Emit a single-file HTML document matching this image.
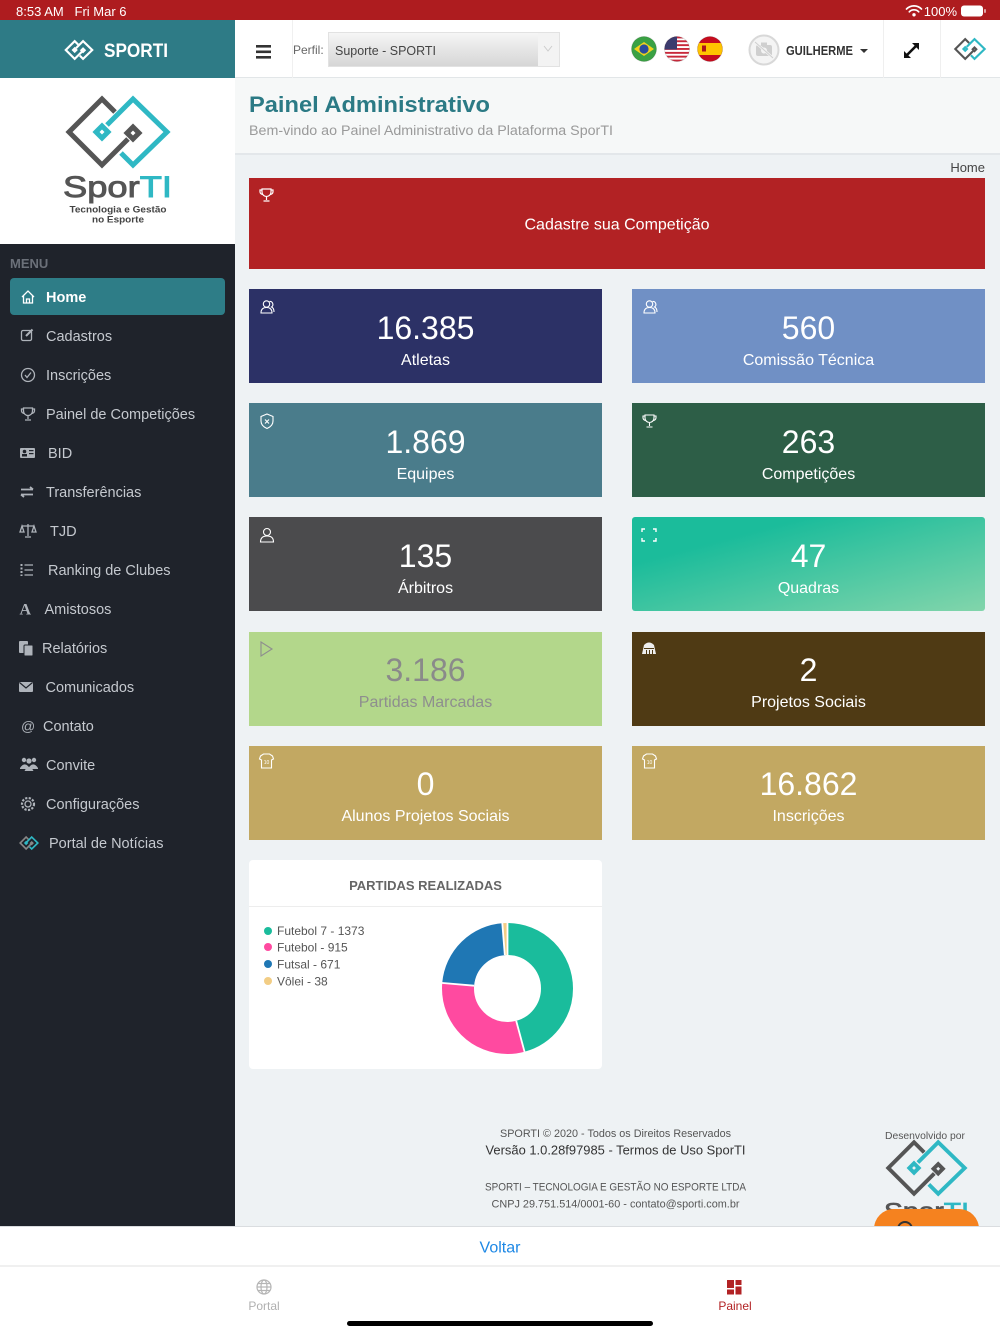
<!DOCTYPE html>
<html><head><meta charset="utf-8">
<style>
*{margin:0;padding:0;box-sizing:border-box}
html,body{width:1000px;height:1334px;overflow:hidden;background:#EEF2F4}
svg{position:absolute;left:0;top:0;display:block}
svg text{font-family:"Liberation Sans","DejaVu Sans",sans-serif;white-space:pre}
</style></head><body>
<svg width="1000" height="1334" viewBox="0 0 1000 1334" xmlns="http://www.w3.org/2000/svg">
<defs>
<path id="lgG" d="M115,112 L102,99 L69,132 L102,165 L128,139 M133,127 L139,133 L133,139 L127,133 Z" fill="none"/>
<path id="lgT" d="M121,153 L133,165 L167,132 L133,99 L107,125 M102,126 L108,132 L102,138 L96,132 Z" fill="none"/>
<linearGradient id="qg" x1="0" y1="0" x2="1" y2="1"><stop offset="0.25" stop-color="#1BBC9B"/><stop offset="1" stop-color="#82D5AB"/></linearGradient>
<linearGradient id="selg" x1="0" y1="0" x2="0" y2="1"><stop offset="0" stop-color="#f6f6f6"/><stop offset="1" stop-color="#d5d5d5"/></linearGradient>
<clipPath id="cf1"><circle cx="644" cy="49" r="12.5"/></clipPath>
<clipPath id="cf2"><circle cx="677" cy="49" r="12.5"/></clipPath>
<clipPath id="cf3"><circle cx="710" cy="49" r="12.5"/></clipPath>
<clipPath id="mainclip"><rect x="235" y="0" width="765" height="1226"/></clipPath>
</defs>

<!-- backgrounds -->
<rect x="0" y="0" width="1000" height="1334" fill="#EEF2F4"/>
<rect x="235" y="78" width="765" height="76" fill="#F6F8F8"/>
<rect x="235" y="153" width="765" height="2" fill="#E3E7EA"/>

<!-- status bar -->
<rect x="0" y="0" width="1000" height="20" fill="#AE1C1F"/>
<text x="16" y="16" font-size="13" fill="#fff">8:53 AM   Fri Mar 6</text>
<g fill="none" stroke="#fff" stroke-width="1.7" stroke-linecap="round">
<path d="M906.5,9 A10.5,10.5 0 0 1 921.5,9"/>
<path d="M909.3,11.8 A6.6,6.6 0 0 1 918.7,11.8"/>
</g>
<circle cx="914" cy="14.8" r="1.7" fill="#fff"/>
<text x="957" y="16" font-size="13" fill="#fff" text-anchor="end">100%</text>
<rect x="961" y="5.5" width="22" height="11" rx="3" fill="#fff"/>
<rect x="984" y="9" width="2" height="4" rx="1" fill="#fff" opacity="0.6"/>

<!-- header -->
<rect x="0" y="20" width="235" height="58" fill="#2E7B86"/>
<rect x="235" y="20" width="765" height="58" fill="#fff"/>
<rect x="235" y="77" width="765" height="1" fill="#E2E6E8"/>
<g transform="translate(79,50) scale(0.27) translate(-118,-132)" stroke="#fff" stroke-width="8"><use href="#lgG"/><use href="#lgT"/></g>
<text x="104" y="57" font-size="19" font-weight="bold" fill="#fff" textLength="64" lengthAdjust="spacingAndGlyphs">SPORTI</text>
<rect x="292" y="20" width="1" height="58" fill="#F0F0F0"/>
<rect x="256" y="45" width="15" height="2.6" fill="#333"/>
<rect x="256" y="50.5" width="15" height="2.6" fill="#333"/>
<rect x="256" y="56" width="15" height="2.6" fill="#333"/>
<text x="293" y="54" font-size="12" fill="#666">Perfil:</text>
<rect x="328.5" y="32.5" width="231" height="34" fill="url(#selg)" stroke="#e2e2e2"/>
<rect x="538" y="33" width="21" height="33" fill="#f3f3f3"/>
<path d="M544,46 L548,51 L552,46" fill="none" stroke="#ccc" stroke-width="1"/>
<text x="335" y="55" font-size="13" fill="#444" textLength="101" lengthAdjust="spacingAndGlyphs">Suporte - SPORTI</text>

<!-- flags -->
<g clip-path="url(#cf1)">
<rect x="631" y="36" width="26" height="26" fill="#3AA144"/>
<polygon points="634,49 644,42 654,49 644,56" fill="#F2D21B"/>
<circle cx="644" cy="49" r="4.6" fill="#2A4B9B"/>
</g>
<g clip-path="url(#cf2)">
<rect x="664" y="36" width="26" height="26" fill="#fff"/>
<rect x="664" y="36.5" width="26" height="1.9" fill="#C8283A"/>
<rect x="664" y="40.3" width="26" height="1.9" fill="#C8283A"/>
<rect x="664" y="44.2" width="26" height="1.9" fill="#C8283A"/>
<rect x="664" y="48" width="26" height="1.9" fill="#C8283A"/>
<rect x="664" y="51.9" width="26" height="1.9" fill="#C8283A"/>
<rect x="664" y="55.7" width="26" height="1.9" fill="#C8283A"/>
<rect x="664" y="59.6" width="26" height="1.9" fill="#C8283A"/>
<rect x="664" y="36" width="13" height="13.5" fill="#3C3B6E"/>
</g>
<g clip-path="url(#cf3)">
<rect x="697" y="36" width="26" height="26" fill="#C60B1E"/>
<rect x="697" y="43" width="26" height="12" fill="#FFC400"/>
<rect x="702" y="45.5" width="4" height="6" fill="#AD1519"/>
</g>
<circle cx="644" cy="49" r="12.5" fill="none" stroke="rgba(0,0,0,0.12)"/>
<circle cx="677" cy="49" r="12.5" fill="none" stroke="rgba(0,0,0,0.12)"/>
<circle cx="710" cy="49" r="12.5" fill="none" stroke="rgba(0,0,0,0.12)"/>

<!-- avatar -->
<circle cx="764" cy="50" r="14.5" fill="#f4f4f4" stroke="#d8d8d8" stroke-width="2"/>
<rect x="756" y="45" width="16" height="11" rx="2" fill="#cfcfcf"/>
<rect x="761" y="42.5" width="6" height="3" fill="#cfcfcf"/>
<circle cx="764" cy="50.5" r="3" fill="#f4f4f4"/>
<line x1="755" y1="42" x2="773" y2="58" stroke="#f4f4f4" stroke-width="2.5"/>
<line x1="755" y1="42" x2="773" y2="58" stroke="#cfcfcf" stroke-width="1"/>
<text x="786" y="55" font-size="12.5" font-weight="bold" fill="#333" textLength="67" lengthAdjust="spacingAndGlyphs">GUILHERME</text>
<polygon points="860,49 868,49 864,53" fill="#333"/>
<rect x="883" y="20" width="1" height="58" fill="#EFEFEF"/>
<rect x="940" y="20" width="1" height="58" fill="#EFEFEF"/>
<g stroke="#111" stroke-width="2.6" fill="#111">
<line x1="907" y1="55" x2="916" y2="46"/>
<polygon points="904,58 904,51 911,58" stroke="none"/>
<polygon points="919,43 912,43 919,50" stroke="none"/>
</g>
<g transform="translate(970,49) scale(0.3) translate(-118,-132)" stroke-width="7"><use href="#lgG" stroke="#555"/><use href="#lgT" stroke="#2FB8C4"/></g>

<!-- sidebar -->
<rect x="0" y="78" width="235" height="166" fill="#fff"/>
<rect x="0" y="244" width="235" height="982" fill="#1F232B"/>
<g stroke-width="5"><use href="#lgG" stroke="#555"/><use href="#lgT" stroke="#2FB8C4"/></g>
<text x="63" y="197" font-size="30" fill="#555" stroke="#555" stroke-width="0.9" textLength="109" lengthAdjust="spacingAndGlyphs">Spor<tspan fill="#2FB8C4" stroke="#2FB8C4">TI</tspan></text>
<text x="118" y="212.5" font-size="9.5" font-weight="bold" fill="#444" text-anchor="middle" textLength="97" lengthAdjust="spacingAndGlyphs">Tecnologia e Gestão</text>
<text x="118" y="222.5" font-size="9.5" font-weight="bold" fill="#444" text-anchor="middle" textLength="52" lengthAdjust="spacingAndGlyphs">no Esporte</text>

<text x="10" y="268" font-size="13" font-weight="bold" fill="#6B7079">MENU</text>
<rect x="10" y="278" width="215" height="37" rx="4" fill="#2E7D87"/>
<path d="M22,297 L28,291 L34,297 M23.5,295.5 V303 H32.5 V295.5 M26.5,303 V299 H29.5 V303" fill="none" stroke="#fff" stroke-width="1.3"/>
<text x="46" y="302" font-size="14.5" font-weight="bold" fill="#fff">Home</text>

<g font-size="14.5" fill="#C5C9CF">
<text x="46" y="341">Cadastros</text>
<text x="46" y="380">Inscrições</text>
<text x="46" y="419">Painel de Competições</text>
<text x="48" y="458">BID</text>
<text x="46" y="497">Transferências</text>
<text x="50" y="536">TJD</text>
<text x="48" y="575">Ranking de Clubes</text>
<text x="44.5" y="614">Amistosos</text>
<text x="42" y="653">Relatórios</text>
<text x="45.5" y="692">Comunicados</text>
<text x="43" y="731">Contato</text>
<text x="46" y="770">Convite</text>
<text x="46" y="809">Configurações</text>
<text x="49" y="848">Portal de Notícias</text>
</g>
<!-- sidebar icons -->
<g stroke="#AEB3BA" fill="none" stroke-width="1.3">
<rect x="21.5" y="330.5" width="10" height="10" rx="1.5"/>
<line x1="26" y1="336" x2="32.5" y2="329.5" stroke-width="2"/>
<circle cx="28" cy="375" r="6.5"/>
<path d="M25,375 L27,377.5 L31,372.5"/>
<path d="M23.5,408 H32.5 V411 A4.5,4.5 0 0 1 23.5,411 Z M23.5,409 H21.5 V411 A3,3 0 0 0 24.5,413.5 M32.5,409 H34.5 V411 A3,3 0 0 1 31.5,413.5 M28,415.5 V419 M25,420 H31"/>
<path d="M21,489.5 H33 M30,487 L33,489.5 M33,494.5 H21 M24,497 L21,494.5" stroke-width="1.8"/>
<path d="M22,526 H34 M28,524 V536 M25,537 H31 M22,526 L20,532 H24 Z M34,526 L32,532 H36 Z"/>
<path d="M24.5,565 H33 M24.5,570 H33 M24.5,575 H33"/>
<path d="M21.5,564 V576" stroke-dasharray="2 1.5" stroke-width="2"/>
<circle cx="28" cy="804" r="3"/>
<circle cx="28" cy="804" r="6" stroke-dasharray="2.2 1.4" stroke-width="2.2"/>
</g>
<g fill="#AEB3BA">
<rect x="20" y="448" width="15" height="10" rx="1"/>
<circle cx="24.5" cy="451.5" r="1.8" fill="#1F232B"/>
<rect x="22" y="454" width="5" height="2.5" fill="#1F232B"/>
<rect x="29" y="450" width="4.5" height="1.2" fill="#1F232B"/>
<rect x="29" y="453" width="4.5" height="1.2" fill="#1F232B"/>
<text x="19.5" y="614.5" font-size="16" font-weight="bold" style="font-family:'Liberation Serif',serif">A</text>
<rect x="19" y="641" width="9" height="12" rx="1"/>
<rect x="24" y="645" width="9" height="11" rx="1" stroke="#1F232B" stroke-width="1"/>
<rect x="19" y="682" width="14" height="10" rx="1"/>
<path d="M19.5,682.5 L26,688 L32.5,682.5" fill="none" stroke="#1F232B" stroke-width="1.2"/>
<text x="21" y="731" font-size="14">@</text>
<circle cx="24" cy="760" r="2.2"/><circle cx="34" cy="760" r="2.2"/><circle cx="29" cy="761" r="2.6"/>
<path d="M20,768 Q24,762 28,766 V769 H20 Z M30,766 Q34,762 38,768 V769 H30 Z M24.5,771 Q29,762 33.5,771 Z"/>
</g>
<g transform="translate(29,843) scale(0.18) translate(-118,-132)" stroke-width="9"><use href="#lgG" stroke="#888"/><use href="#lgT" stroke="#2FB8C4"/></g>

<!-- main header -->
<text x="249" y="112" font-size="22.5" font-weight="bold" fill="#2B7A85" textLength="241" lengthAdjust="spacingAndGlyphs">Painel Administrativo</text>
<text x="249" y="135" font-size="13.5" fill="#9A9A9A" textLength="364" lengthAdjust="spacingAndGlyphs">Bem-vindo ao Painel Administrativo da Plataforma SporTI</text>
<text x="985" y="172" font-size="13" fill="#444" text-anchor="end">Home</text>

<!-- banner -->
<rect x="249" y="178" width="736" height="91" fill="#B22224"/>
<g transform="translate(266.5,195)" stroke="#fff" fill="none" stroke-width="1.2">
<path d="M-4.5,-6 H4.5 V-3 A4.5,4.5 0 0 1 -4.5,-3 Z M-4.5,-5 H-6.5 V-3 A3,3 0 0 0 -3.5,-0.5 M4.5,-5 H6.5 V-3 A3,3 0 0 1 3.5,-0.5 M0,1.5 V5 M-3,6 H3"/>
</g>
<text x="617" y="229.5" font-size="16" fill="#fff" text-anchor="middle">Cadastre sua Competição</text>

<!-- cards -->
<rect x="249" y="289" width="353" height="94" fill="#2C3166"/>
<rect x="632" y="289" width="353" height="94" fill="#7090C5"/>
<rect x="249" y="403" width="353" height="94" fill="#4A7C8B"/>
<rect x="632" y="403" width="353" height="94" fill="#2D5E47"/>
<rect x="249" y="517" width="353" height="94" fill="#4B4B4D"/>
<rect x="632" y="517" width="353" height="94" rx="3" fill="url(#qg)"/>
<rect x="249" y="632" width="353" height="94" fill="#B3D78B"/>
<rect x="632" y="632" width="353" height="94" fill="#4F3A14"/>
<rect x="249" y="746" width="353" height="94" fill="#C2A862"/>
<rect x="632" y="746" width="353" height="94" fill="#C2A862"/>

<g font-size="32" text-anchor="middle" fill="#fff">
<text x="425.5" y="339">16.385</text>
<text x="808.5" y="339">560</text>
<text x="425.5" y="453">1.869</text>
<text x="808.5" y="453">263</text>
<text x="425.5" y="567">135</text>
<text x="808.5" y="567">47</text>
<text x="425.5" y="681" fill="#8A8A8A">3.186</text>
<text x="808.5" y="681">2</text>
<text x="425.5" y="795">0</text>
<text x="808.5" y="795">16.862</text>
</g>
<g font-size="16" text-anchor="middle" fill="#fff">
<text x="425.5" y="365">Atletas</text>
<text x="808.5" y="365">Comissão Técnica</text>
<text x="425.5" y="479">Equipes</text>
<text x="808.5" y="479">Competições</text>
<text x="425.5" y="593">Árbitros</text>
<text x="808.5" y="593">Quadras</text>
<text x="425.5" y="707" fill="#8E8E8E">Partidas Marcadas</text>
<text x="808.5" y="707">Projetos Sociais</text>
<text x="425.5" y="821">Alunos Projetos Sociais</text>
<text x="808.5" y="821">Inscrições</text>
</g>

<!-- card icons -->
<g stroke="#fff" fill="none" stroke-width="1.1">
<g transform="translate(267,307)"><circle cx="-0.5" cy="-3" r="3.2"/><path d="M-6,6 Q-6,0.5 -0.5,0.5 Q5,0.5 5,6 Z"/><path d="M2.5,-5.5 A3,3 0 0 1 4.5,0 Q7,1 7,5"/></g>
<g transform="translate(650,307)"><circle cx="-0.5" cy="-3" r="3.2"/><path d="M-6,6 Q-6,0.5 -0.5,0.5 Q5,0.5 5,6 Z"/><path d="M2.5,-5.5 A3,3 0 0 1 4.5,0 Q7,1 7,5"/></g>
<g transform="translate(267,421)"><path d="M0,-7 L6,-4.5 V0 Q6,5 0,7.5 Q-6,5 -6,0 V-4.5 Z"/><path d="M-2,-1.5 L2,2.5 M2,-1.5 L-2,2.5"/></g>
<g transform="translate(649.5,421)"><path d="M-4.5,-6 H4.5 V-3 A4.5,4.5 0 0 1 -4.5,-3 Z M-4.5,-5 H-6.5 V-3 A3,3 0 0 0 -3.5,-0.5 M4.5,-5 H6.5 V-3 A3,3 0 0 1 3.5,-0.5 M0,1.5 V5 M-3,6 H3"/></g>
<g transform="translate(267,535)"><circle cx="0" cy="-3" r="3.5"/><path d="M-6.5,7 Q-6.5,1 0,1 Q6.5,1 6.5,7 Z"/></g>
<g transform="translate(649,535)" stroke-width="1.4"><path d="M-7,-3 V-6 H-4 M4,-6 H7 V-3 M7,3 V6 H4 M-4,6 H-7 V3"/></g>
<g transform="translate(266,649)" stroke="#8E8E8E"><path d="M-5,-7 L6,0 L-5,7 Z"/></g>
<g transform="translate(266.5,761)"><path d="M-6,-5 L-3,-7 H3 L6,-5 L7,-2 L5,-1 V7 H-5 V-1 L-7,-2 Z"/></g>
<g transform="translate(649.5,761)"><path d="M-6,-5 L-3,-7 H3 L6,-5 L7,-2 L5,-1 V7 H-5 V-1 L-7,-2 Z"/></g>
</g>
<text x="266.5" y="764" font-size="5" fill="#fff" text-anchor="middle">10</text>
<text x="649.5" y="764" font-size="5" fill="#fff" text-anchor="middle">10</text>
<g transform="translate(649,648)" fill="#eee">
<path d="M-7,6 L-5,-3 Q0,-8 5,-3 L7,6 Z"/>
<rect x="-5" y="0" width="10" height="1" fill="#4F3A14"/>
<rect x="-3" y="2" width="1" height="4" fill="#4F3A14"/><rect x="0" y="2" width="1" height="4" fill="#4F3A14"/><rect x="3" y="2" width="1" height="4" fill="#4F3A14"/>
</g>

<!-- chart card -->
<rect x="249" y="860" width="353" height="209" rx="4" fill="#fff"/>
<text x="425.5" y="890" font-size="13" font-weight="bold" fill="#666" text-anchor="middle">PARTIDAS REALIZADAS</text>
<rect x="249" y="906" width="353" height="1" fill="#EDEDED"/>
<circle cx="268" cy="931" r="4" fill="#1ABC9C"/>
<circle cx="268" cy="947" r="4" fill="#FF4AA0"/>
<circle cx="268" cy="964" r="4" fill="#1F77B4"/>
<circle cx="268" cy="981" r="4" fill="#F2CD85"/>
<g font-size="12" fill="#555">
<text x="277" y="935">Futebol 7 - 1373</text>
<text x="277" y="951.5">Futebol - 915</text>
<text x="277" y="968.5">Futsal - 671</text>
<text x="277" y="985.5">Vôlei - 38</text>
</g>
<g fill="none" stroke-width="32" transform="rotate(-90 507.5 988.5)">
<circle cx="507.5" cy="988.5" r="49.5" stroke="#1ABC9C" stroke-dasharray="142.49 311.02"/>
<circle cx="507.5" cy="988.5" r="49.5" stroke="#FF4AA0" stroke-dasharray="94.96 311.02" stroke-dashoffset="-142.49"/>
<circle cx="507.5" cy="988.5" r="49.5" stroke="#1F77B4" stroke-dasharray="69.63 311.02" stroke-dashoffset="-237.45"/>
<circle cx="507.5" cy="988.5" r="49.5" stroke="#F2CD85" stroke-dasharray="3.94 311.02" stroke-dashoffset="-307.08"/>
</g>
<g stroke="#fff" stroke-width="1.8">
<line x1="507.5" y1="956" x2="507.5" y2="922"/>
<line x1="516.2" y1="1020.85" x2="524.8" y2="1052.7"/>
<line x1="474.12" y1="985.67" x2="441.2" y2="982.9"/>
<line x1="504.84" y1="955.11" x2="502.2" y2="922.2"/>
</g>

<!-- footer -->
<g text-anchor="middle">
<text x="615.5" y="1137" font-size="11" fill="#555" textLength="231" lengthAdjust="spacingAndGlyphs">SPORTI © 2020 - Todos os Direitos Reservados</text>
<text x="615.5" y="1154.5" font-size="13" fill="#333" textLength="260" lengthAdjust="spacingAndGlyphs">Versão 1.0.28f97985 - Termos de Uso SporTI</text>
<text x="615.5" y="1190.5" font-size="11" fill="#555" textLength="261" lengthAdjust="spacingAndGlyphs">SPORTI – TECNOLOGIA E GESTÃO NO ESPORTE LTDA</text>
<text x="615.5" y="1207.5" font-size="11" fill="#555" textLength="248" lengthAdjust="spacingAndGlyphs">CNPJ 29.751.514/0001-60 - contato@sporti.com.br</text>
<text x="925" y="1139" font-size="10" fill="#555" textLength="80" lengthAdjust="spacingAndGlyphs">Desenvolvido por</text>
</g>
<g clip-path="url(#mainclip)">
<g transform="translate(926.5,1168) scale(0.78) translate(-118,-132)" stroke-width="5"><use href="#lgG" stroke="#555"/><use href="#lgT" stroke="#2FB8C4"/></g>
<text x="884" y="1219" font-size="23" fill="#555" stroke="#555" stroke-width="0.7" textLength="85" lengthAdjust="spacingAndGlyphs">Spor<tspan fill="#2FB8C4" stroke="#2FB8C4">TI</tspan></text>
<rect x="874" y="1209" width="105" height="40" rx="20" fill="#F5821F"/>
<circle cx="905" cy="1229" r="7" fill="none" stroke="#333" stroke-width="2"/>
</g>

<!-- bottom bars -->
<rect x="0" y="1226" width="1000" height="108" fill="#fff"/>
<rect x="0" y="1226" width="1000" height="1" fill="#DADDE0"/>
<text x="500" y="1252.5" font-size="16" fill="#1E88E5" text-anchor="middle">Voltar</text>
<rect x="0" y="1265" width="1000" height="2" fill="#F0F0F0"/>
<g transform="translate(264,1287)" fill="none" stroke="#B5B5B5" stroke-width="1.2">
<circle r="7"/><ellipse rx="3" ry="7"/><line x1="-7" y1="0" x2="7" y2="0"/><path d="M-6,-3.5 H6 M-6,3.5 H6"/>
</g>
<text x="264" y="1310" font-size="12" fill="#B0B0B0" text-anchor="middle">Portal</text>
<g fill="#B22224">
<rect x="727" y="1280" width="7" height="8"/>
<rect x="735.5" y="1280" width="6" height="5"/>
<rect x="735.5" y="1286.5" width="6" height="8"/>
<rect x="727" y="1289.5" width="7" height="5"/>
</g>
<text x="735" y="1310" font-size="12" fill="#B22224" text-anchor="middle">Painel</text>
<rect x="347" y="1321" width="306" height="5" rx="2.5" fill="#000"/>
</svg>
</body></html>
